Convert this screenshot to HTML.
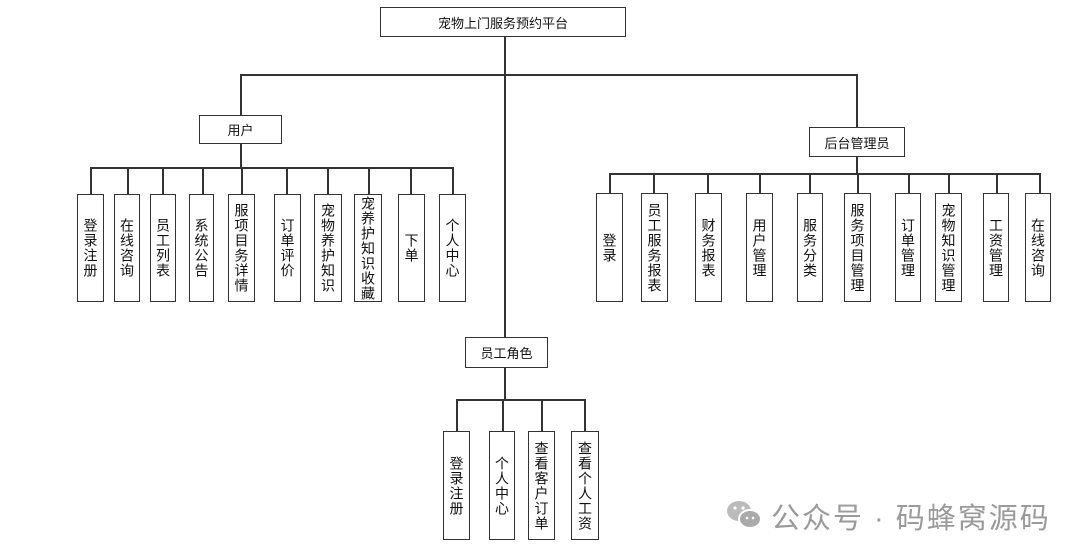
<!DOCTYPE html>
<html><head><meta charset="utf-8"><style>
body{margin:0;width:1080px;height:558px;background:#fff;position:relative;overflow:hidden;font-family:"Liberation Sans","Noto Sans CJK SC",sans-serif;color:#111}
.b{position:absolute;border:1.5px solid #333;box-sizing:border-box;display:flex;align-items:center;justify-content:center;font-size:13px;background:#fff}
.v{writing-mode:vertical-rl;text-orientation:upright;font-size:14px;line-height:16px;letter-spacing:1px}
.l{position:absolute;background:#333}
</style></head><body>
<div class="l" style="left:504px;top:36px;width:1.5px;height:303px"></div>
<div class="l" style="left:240px;top:74px;width:617px;height:1.5px"></div>
<div class="l" style="left:240px;top:74px;width:1.5px;height:42px"></div>
<div class="l" style="left:856px;top:74px;width:1.5px;height:54px"></div>
<div class="b" style="left:380px;top:7px;width:246px;height:30px">宠物上门服务预约平台</div>
<div class="b" style="left:199px;top:115px;width:83px;height:29px">用户</div>
<div class="b" style="left:809px;top:127px;width:96px;height:30px">后台管理员</div>
<div class="b" style="left:465px;top:337px;width:83px;height:31px">员工角色</div>
<div class="l" style="left:240px;top:143px;width:1.5px;height:25px"></div>
<div class="l" style="left:90px;top:167px;width:363px;height:1.5px"></div>
<div class="l" style="left:856px;top:156px;width:1.5px;height:18px"></div>
<div class="l" style="left:609px;top:173px;width:431px;height:1.5px"></div>
<div class="l" style="left:504px;top:367px;width:1.5px;height:33px"></div>
<div class="l" style="left:456px;top:399px;width:129px;height:1.5px"></div>
<div id="c"></div>
<div style="position:absolute;left:724px;top:497px;width:42px;height:36px">
<svg width="42" height="36"><ellipse cx="15" cy="14" rx="12" ry="10" fill="#bbb"/><ellipse cx="26" cy="22" rx="11" ry="9" fill="#aaa" stroke="#fff" stroke-width="2"/><circle cx="11" cy="11" r="1.6" fill="#fff"/><circle cx="19" cy="11" r="1.6" fill="#fff"/><circle cx="23" cy="21" r="1.3" fill="#fff"/><circle cx="29" cy="21" r="1.3" fill="#fff"/></svg></div>
<div style="position:absolute;left:771px;top:495px;font-size:29px;color:#9a9a9a;white-space:nowrap;letter-spacing:2px">公众号 · 码蜂窝源码</div>
<script>
var items=[
[77,103,194,302,90,"登录注册"],[114,139,194,302,127,"在线咨询"],[150,175,194,302,162,"员工列表"],[189,213,194,302,202,"系统公告"],[228,254,194,302,241,"服项目务详情"],[274,300,194,302,286,"订单评价"],[314,341,194,302,327,"宠物养护知识"],[354,381,194,302,368,"宠养护知识收藏"],[398,424,194,302,410,"下单"],[439,465,194,302,452,"个人中心"],
[596,622,193,302,609,"登录"],[641,667,193,302,653,"员工服务报表"],[695,721,193,302,707,"财务报表"],[746,772,193,302,759,"用户管理"],[797,822,193,302,809,"服务分类"],[844,870,193,302,857,"服务项目管理"],[895,920,193,302,908,"订单管理"],[935,961,193,302,948,"宠物知识管理"],[983,1008,193,302,996,"工资管理"],[1025,1050,193,302,1039,"在线咨询"],
[443,469,431,540,456,"登录注册"],[489,514,431,540,502,"个人中心"],[528,554,431,540,541,"查看客户订单"],[571,598,431,540,584,"查看个人工资"]];
var h="";
items.forEach(function(t,i){
var lineTop=i<10?167:(i<20?173:399);
h+='<div class="l" style="left:'+t[4]+'px;top:'+lineTop+'px;width:1.5px;height:'+(t[2]-lineTop)+'px"></div>';
h+='<div class="b" style="left:'+t[0]+'px;top:'+t[2]+'px;width:'+(t[1]-t[0]+1)+'px;height:'+(t[3]-t[2])+'px"><span class="v">'+t[5]+'</span></div>';
});
document.getElementById("c").innerHTML=h;
</script>
</body></html>
